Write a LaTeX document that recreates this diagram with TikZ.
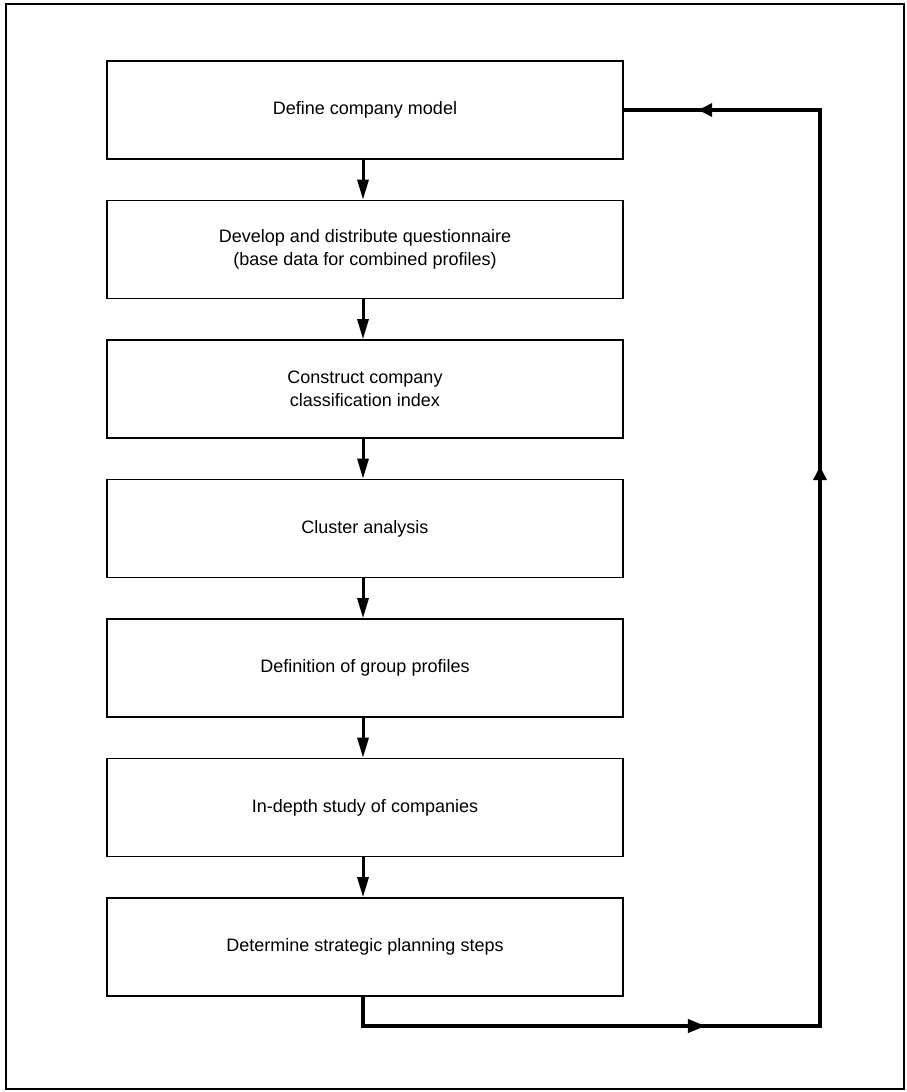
\documentclass[tikz,border=0pt]{standalone}
\usepackage{fontspec}
\setmainfont{Liberation Sans}
\usetikzlibrary{arrows.meta,decorations.markings}

\begin{document}
\begin{tikzpicture}[x=1pt,y=-1pt,
  stepbox/.style={draw, line width=1.6pt, minimum width=516pt, minimum height=98pt,
    align=center, inner sep=0pt, font=\fontsize{18}{23}\selectfont},
  flow/.style={line width=3pt, -{Triangle[length=20pt,width=11pt]}},
  feedback/.style={line width=4pt, line join=miter,
    postaction={decorate},
    decoration={markings,
      mark=at position 372pt with {\arrow{Triangle[length=18pt,width=13pt]}},
      mark=at position 1046pt with {\arrow{Triangle[length=14pt,width=13pt]}},
      mark=at position 1524pt with {\arrow{Triangle[length=14pt,width=13pt]}}}},
  frame/.style={draw, line width=2.5pt}]

\useasboundingbox (0,0) rectangle (906,1092);
\draw[frame] (6,4) rectangle (904,1089);

% process steps, top to bottom
\node[stepbox] (b1) at (365,110)   {Define company model};
\node[stepbox] (b2) at (365,249.5) {Develop and distribute questionnaire\\(base data for combined profiles)};
\node[stepbox] (b3) at (365,389)   {Construct company\\classification index};
\node[stepbox] (b4) at (365,528.5) {Cluster analysis};
\node[stepbox] (b5) at (365,668)   {Definition of group profiles};
\node[stepbox] (b6) at (365,807.5) {In-depth study of companies};
\node[stepbox] (b7) at (365,947)   {Determine strategic planning steps};

% forward flow
\foreach \a/\b in {b1/b2,b2/b3,b3/b4,b4/b5,b5/b6,b6/b7}
  \draw[flow] ([xshift=-2pt]\a.south) -- ([xshift=-2pt]\b.north);

% feedback loop back to the first step
\coordinate (lowright) at (820,1026);
\coordinate (upright)  at (820,110);
\draw[feedback] ([xshift=-2pt]b7.south) |- (lowright) -- (upright) -- (b1.east);

\end{tikzpicture}
\end{document}
